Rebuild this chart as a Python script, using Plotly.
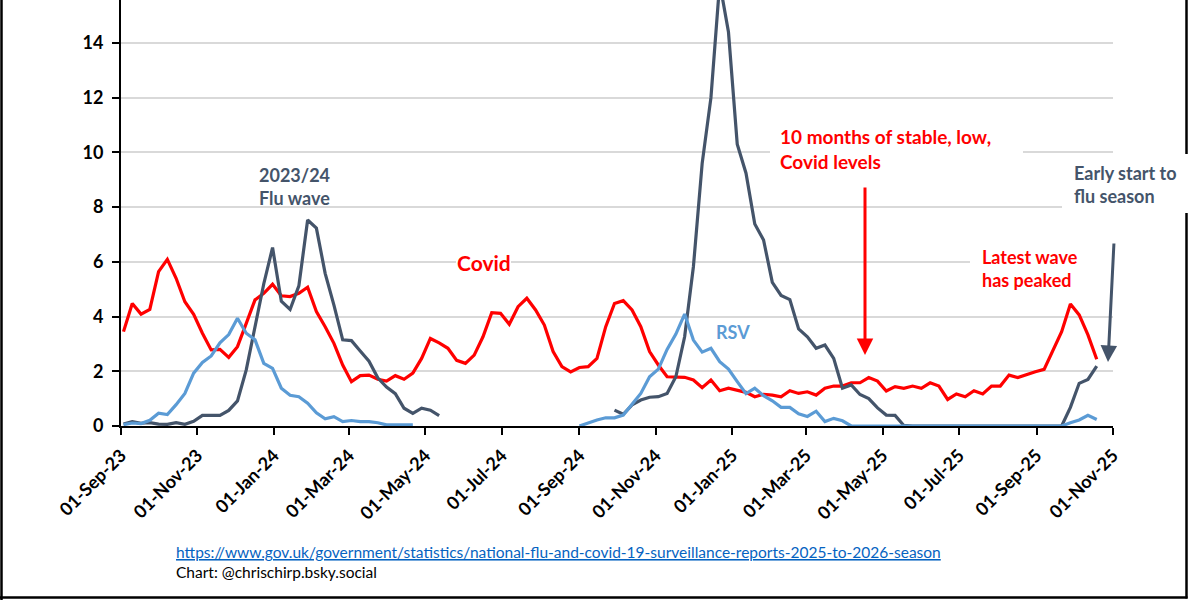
import pandas as pd
import plotly.graph_objects as go

# ---------------- data ----------------
week_start = "2023-09-03"
n_weeks = 112
dates = pd.date_range(week_start, periods=n_weeks, freq="7D")

covid = [3.45, 4.48, 4.09, 4.26, 5.64, 6.09, 5.40, 4.54, 4.08, 3.39,
         2.78, 2.80, 2.51, 2.90, 3.75, 4.61, 4.85, 5.18, 4.76, 4.73,
         4.85, 5.07, 4.18, 3.63, 3.02, 2.23, 1.62, 1.84, 1.86, 1.71,
         1.64, 1.84, 1.71, 1.93, 2.47, 3.20, 3.04, 2.84, 2.40, 2.29,
         2.59, 3.26, 4.14, 4.12, 3.72, 4.36, 4.67, 4.24, 3.69, 2.72,
         2.17, 1.98, 2.14, 2.17, 2.47, 3.63, 4.48, 4.58, 4.24, 3.63,
         2.72, 2.23, 1.80, 1.78, 1.78, 1.68, 1.40, 1.68, 1.29, 1.38,
         1.29, 1.23, 1.07, 1.16, 1.13, 1.07, 1.29, 1.19, 1.25, 1.13,
         1.38, 1.46, 1.46, 1.58, 1.58, 1.77, 1.64, 1.28, 1.44, 1.38,
         1.46, 1.38, 1.58, 1.46, 0.97, 1.17, 1.07, 1.29, 1.17, 1.46,
         1.46, 1.86, 1.77, 1.86, 1.98, 2.07, 2.78, 3.45, 4.46, 4.06,
         3.33, 2.44]

flu = ([0.07, 0.16, 0.10, 0.12, 0.07, 0.06, 0.12, 0.06, 0.17, 0.39,
        0.39, 0.39, 0.57, 0.92, 2.05, 3.65, 5.20, 6.52, 4.56, 4.26,
        5.12, 7.53, 7.23, 5.58, 4.42, 3.15, 3.12, 2.74, 2.37, 1.76,
        1.42, 1.18, 0.65, 0.46, 0.65, 0.58, 0.38]
       + [None] * 19
       + [0.58, 0.43, 0.77, 0.95, 1.05, 1.07, 1.19, 1.80, 3.26, 5.82,
          9.60, 12.0, 16.2, 14.4, 10.3, 9.24, 7.38, 6.80, 5.25, 4.77,
          4.62, 3.55, 3.26, 2.84, 2.96, 2.47, 1.38, 1.50, 1.15, 1.00,
          0.66, 0.40, 0.39, 0.02]
       + [0.0] * 18
       + [0.68, 1.56, 1.70, 2.19])

rsv = ([0.05, 0.11, 0.09, 0.21, 0.47, 0.42, 0.78, 1.19, 1.93, 2.32,
        2.56, 3.04, 3.34, 3.94, 3.39, 3.15, 2.29, 2.11, 1.38, 1.12,
        1.07, 0.83, 0.48, 0.26, 0.34, 0.16, 0.20, 0.16, 0.16, 0.12,
        0.04, 0.04, 0.05, 0.04]
       + [None] * 18
       + [0.0, 0.12, 0.22, 0.30, 0.30, 0.40, 0.80, 1.19, 1.80, 2.08,
          2.80, 3.36, 4.09, 3.14, 2.70, 2.84, 2.35, 2.08, 1.62, 1.18,
          1.38, 1.11, 0.92, 0.68, 0.68, 0.45, 0.35, 0.54, 0.16, 0.28,
          0.19]
       + [0.0] * 25
       + [0.12, 0.22, 0.39, 0.24])

tick_dates = ["2023-09-01", "2023-11-01", "2024-01-01", "2024-03-01",
              "2024-05-01", "2024-07-01", "2024-09-01", "2024-11-01",
              "2025-01-01", "2025-03-01", "2025-05-01", "2025-07-01",
              "2025-09-01", "2025-11-01"]
y_ticks = [0, 2, 4, 6, 8, 10, 12, 14]

# ---------------- styling ----------------
RED = "#FF0000"
FLU = "#44546A"
RSV = "#5B9BD5"
FONT = "Lato"

W, H = 1200, 600
L, R, T, B = 121, 1113, 0, 426  # plot area in pixels
X0, X1 = pd.Timestamp("2023-09-01"), pd.Timestamp("2025-11-01")
Y0, Y1 = 0.0, 15.57


def px(xp):
    return (xp - L) / (R - L)


def py(yp):
    return (B - yp) / (B - T)


def dx(xp):
    return X0 + (X1 - X0) * ((xp - L) / (R - L))


def vy(yp):
    return Y0 + (Y1 - Y0) * ((B - yp) / (B - T))


fig = go.Figure()
fig.add_trace(go.Scatter(x=dates, y=covid, mode="lines", name="Covid",
                         line=dict(color=RED, width=3.2)))
fig.add_trace(go.Scatter(x=dates, y=flu, mode="lines", name="Flu",
                         line=dict(color=FLU, width=3.2), connectgaps=False))
fig.add_trace(go.Scatter(x=dates, y=rsv, mode="lines", name="RSV",
                         line=dict(color=RSV, width=3.2), connectgaps=False))

shapes = []
# white text boxes hiding gridlines (between gridlines and traces)
for (xa, ya, xb, yb) in [(770, 125, 1023, 172), (1062, 156, 1200, 213),
                         (970, 243, 1200, 292), (456, 250, 511, 274)]:
    shapes.append(dict(type="rect", xref="x", yref="y", layer="between",
                       x0=dx(xa), x1=dx(xb), y0=vy(yb), y1=vy(ya),
                       fillcolor="white", line=dict(width=0)))
# outer frame
frame = dict(type="line", xref="paper", yref="paper", layer="above",
             line=dict(color="black", width=2.5))
shapes.append(dict(frame, x0=px(1.5), x1=px(1.5), y0=py(0), y1=py(600)))
shapes.append(dict(frame, x0=px(0), x1=px(1187.5), y0=py(597.5), y1=py(597.5)))
shapes.append(dict(frame, x0=px(1186.5), x1=px(1186.5), y0=py(0), y1=py(154)))
shapes.append(dict(frame, x0=px(1186.5), x1=px(1186.5), y0=py(213), y1=py(598.5)))

annotations = []


def label(text, xl, yc, color, size=18, weight="bold"):
    annotations.append(dict(text=text, xref="paper", yref="paper",
                            x=px(xl), y=py(yc), xanchor="left", yanchor="middle",
                            align="left", showarrow=False, borderpad=0,
                            font=dict(family=FONT, size=size, color=color,
                                      weight=weight)))


label("2023/24<br>Flu wave", 258, 186, FLU)
label("Covid", 456, 262, RED, size=21)
label("RSV", 715, 332, RSV)
label("10 months of stable, low,<br>Covid levels", 779, 149, RED, size=19)
label("Early start to<br>flu season", 1073, 184, FLU)
label("Latest wave<br>has peaked", 981, 268.5, RED)
label("<u>https://www.gov.uk/government/statistics/national-flu-and-covid-19-surveillance-reports-2025-to-2026-season</u>",
      175, 551.5, "#0563C1", size=15.5, weight="normal")
label("Chart: @chrischirp.bsky.social", 175, 572, "#000000", size=15.5,
      weight="normal")

# arrows
annotations.append(dict(text="", xref="paper", yref="paper", x=px(865), y=py(355),
                        ax=0, ay=-169, showarrow=True, arrowhead=2,
                        arrowsize=1.1, arrowwidth=3, arrowcolor=RED))
annotations.append(dict(text="", xref="paper", yref="paper", x=px(1108), y=py(362),
                        ax=6, ay=-120, showarrow=True, arrowhead=2,
                        arrowsize=1.1, arrowwidth=3, arrowcolor=FLU))

tickfont = dict(family=FONT, size=18, color="black", weight="bold")

fig.update_layout(
    width=W, height=H,
    margin=dict(l=L, r=W - R, t=T, b=H - B, pad=0),
    paper_bgcolor="white", plot_bgcolor="white",
    showlegend=False,
    shapes=shapes, annotations=annotations,
    xaxis=dict(type="date", range=[X0, X1], tickvals=tick_dates,
               tickformat="%d-%b-%y", tickangle=-45, tickfont=tickfont,
               ticks="outside", ticklen=7, tickwidth=2, tickcolor="black",
               ticklabelstandoff=3,
               showline=True, linecolor="black", linewidth=2,
               showgrid=False, zeroline=False),
    yaxis=dict(range=[Y0, Y1], tickvals=y_ticks, tickfont=tickfont,
               ticks="outside", ticklen=7, tickwidth=2, tickcolor="black",
               ticklabelstandoff=5,
               showline=True, linecolor="black", linewidth=2,
               showgrid=True, gridcolor="#D9D9D9", gridwidth=1.5,
               zeroline=False),
)

fig.write_html("out.html")
